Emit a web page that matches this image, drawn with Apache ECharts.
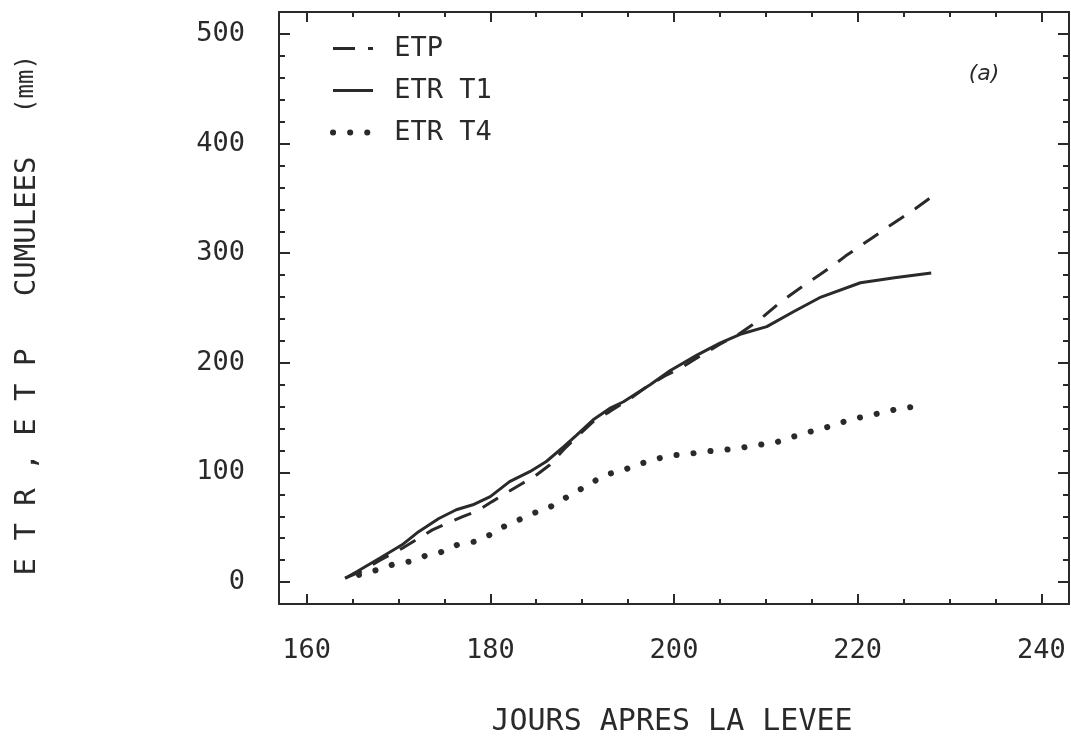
<!DOCTYPE html>
<html><head><meta charset="utf-8">
<script src="https://cdn.jsdelivr.net/npm/echarts@6/dist/echarts.min.js"></script>
<style>html,body{margin:0;padding:0;background:#fff}#c{width:1071px;height:744px}</style>
</head><body><div id="c"></div>
<script>
// ---- data ----
const etpDays = [164.2,166,168,170.6,172.1,173.7,175.3,177.0,178.6,180.2,181.7,183.2,184.8,186.5,188.0,189.5,191.2,193.0,195.0,197.0,199.0,200.7,203.0,205.0,206.9,208.5,210.0,211.4,212.9,214.3,215.9,217.4,218.7,220.3,221.6,223.2,224.8,226.3,228.0];
const etpValues = [3.5,10,20,31.7,39.4,47.6,53.6,59.7,64.9,73.4,81,88.6,96.2,107,121,133,146.3,155.5,166,178,188,195,207,217,225.3,234.4,244.1,254.1,263.3,271.5,280.6,289.2,297.6,306.7,314,323.5,332.3,340.8,351];
const t1Days = [164.2,165.5,168.0,170.4,172.2,174.4,176.3,178.1,180.0,182.1,184.3,186.1,188.0,189.4,191.2,193.0,194.5,197.4,199.6,202.5,205.0,207.2,210.1,213.0,216.0,220.3,224.0,228.0];
const t1Values = [3.5,9.6,22,34,46,58,66,70.5,78,91.6,100.7,110,123.5,134,148,158.4,164.5,180,193,207,218,226,233,246.6,260,273,277.6,282];
const t4Days = [165.7,167.7,169.3,171.2,173.0,174.6,176.4,178.3,179.8,181.5,183.1,184.9,186.4,187.9,189.4,191.1,192.7,194.3,195.9,197.7,199.4,201.3,203.2,205.0,207.0,209.0,210.8,212.4,214.1,215.8,217.7,219.2,221.1,222.7,224.4,226.2];
const t4Values = [6.6,11.1,15.7,18.7,24.2,27.2,33.9,36.9,42.4,50.6,56.7,63.4,67.9,75.5,82.5,91.0,98.3,101.4,106.8,111.4,115.3,116.5,119.0,120.1,122.0,125.1,126.5,131.1,135.6,139.3,143.8,148.4,151.5,154.8,157.9,160.0];
const seriesNames = ['ETP','ETR T1','ETR T4'];
const xTickLabels = [160,180,200,220,240];
const xMinorTicks = [165,170,175,185,190,195,205,210,215,225,230,235];
const yTickLabels = [0,100,200,300,400,500];
const yMinorTicks = [20,40,60,80,120,140,160,180,220,240,260,280,320,340,360,380,420,440,460,480];
const xTitle = 'JOURS APRES LA LEVEE';
const yTitle = 'E T R , E T P   CUMULEES';
const yUnit = '(mm)';
const panelTag = '(a)';

// ---- chart ----
const FONT = 'DejaVu Sans Mono';
const INK = '#2a2a2a';
const zip = (a, b) => a.map((v, i) => [v, b[i]]);

function xAx(pos, ticks, len, showLabel, showLine) {
  return {type:'value', position:pos, min:157, max:243,
    axisLine:{show:showLine, onZero:false, lineStyle:{color:INK, width:2}},
    axisTick:{show:true, inside:true, length:len, customValues:ticks, lineStyle:{color:INK, width:2}},
    axisLabel:{show:showLabel, customValues:ticks, margin:33, color:INK, fontFamily:FONT, fontSize:27},
    splitLine:{show:false}};
}
function yAx(pos, ticks, len, showLabel, showLine) {
  return {type:'value', position:pos, min:-20, max:520,
    axisLine:{show:showLine, onZero:false, lineStyle:{color:INK, width:2}},
    axisTick:{show:true, inside:true, length:len, customValues:ticks, lineStyle:{color:INK, width:2}},
    axisLabel:{show:showLabel, customValues:ticks, margin:34, color:INK, fontFamily:FONT, fontSize:27},
    splitLine:{show:false}};
}

const chart = echarts.init(document.getElementById('c'), null, {renderer:'canvas'});
chart.setOption({
  animation:false,
  backgroundColor:'#fff',
  grid:{left:279, right:2, top:12, bottom:140, containLabel:false},
  xAxis:[
    xAx('bottom', xTickLabels, 10, true, true),
    xAx('bottom', xMinorTicks, 5, false, false),
    xAx('top', xTickLabels, 10, false, true),
    xAx('top', xMinorTicks, 5, false, false)
  ],
  yAxis:[
    yAx('left', yTickLabels, 11, true, true),
    yAx('left', yMinorTicks, 6, false, false),
    yAx('right', yTickLabels, 11, false, true),
    yAx('right', yMinorTicks, 6, false, false)
  ],
  legend:{orient:'vertical', left:325, top:30, itemWidth:40, itemHeight:14, itemGap:15,
    data:[
      {name:seriesNames[0], lineStyle:{type:[22,13]}},
      {name:seriesNames[1]},
      {name:seriesNames[2]}
    ],
    formatter:n => ' ' + n,
    lineStyle:{width:'inherit'},
    itemStyle:{opacity:0, color:'transparent', borderWidth:0},
    textStyle:{fontFamily:FONT, fontSize:27, color:INK}},
  series:[
    {name:seriesNames[0], type:'line', data:zip(etpDays, etpValues), symbol:'none',
      itemStyle:{color:INK}, lineStyle:{color:INK, width:3, type:[18,13]}},
    {name:seriesNames[1], type:'line', data:zip(t1Days, t1Values), symbol:'none',
      itemStyle:{color:INK}, lineStyle:{color:INK, width:3, type:'solid'}},
    {name:seriesNames[2], type:'line', data:zip(t4Days, t4Values), symbol:'none',
      itemStyle:{color:INK}, lineStyle:{color:INK, width:6, type:[0.1,17], cap:'round'}}
  ],
  graphic:[
    {type:'text', x:672, y:722, style:{text:xTitle, font:'30px "DejaVu Sans Mono"', fill:INK, align:'center', verticalAlign:'middle'}},
    {type:'text', x:27, y:366, rotation:Math.PI/2, style:{text:yTitle, font:'29px "DejaVu Sans Mono"', fill:INK, align:'center', verticalAlign:'middle'}},
    {type:'text', x:27, y:84, rotation:Math.PI/2, style:{text:yUnit, font:'24px "DejaVu Sans Mono"', fill:INK, align:'center', verticalAlign:'middle'}},
    {type:'text', x:984, y:74, style:{text:panelTag, font:'italic 22px "DejaVu Sans"', fill:INK, align:'center', verticalAlign:'middle'}}
  ]
});
</script></body></html>
